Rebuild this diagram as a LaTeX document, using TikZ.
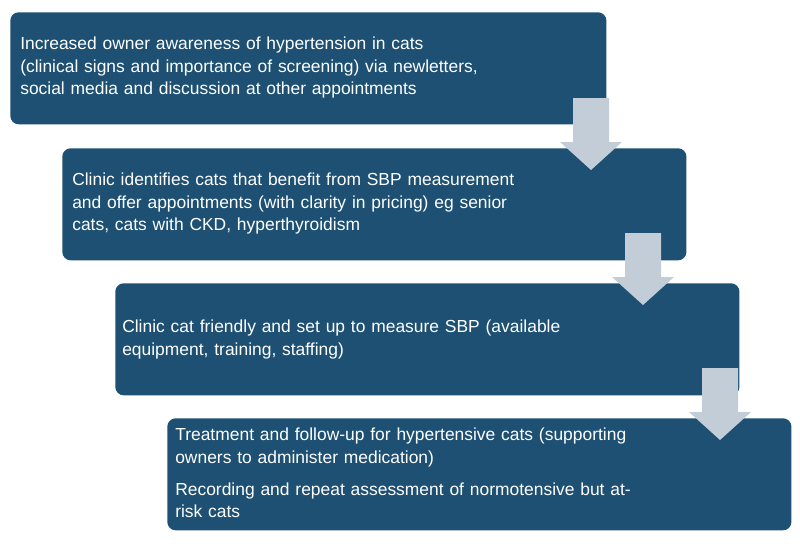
\documentclass[tikz,border=0pt]{standalone}
\usepackage{fontspec}
\setmainfont{Liberation Sans}
\usetikzlibrary{positioning}
\definecolor{stepblue}{HTML}{1D5072}
\definecolor{arrowgray}{HTML}{C3CDD7}
\tikzset{
  stepbox/.style={fill=stepblue, rounded corners=6pt, minimum width=15.6cm,
    minimum height=2.8cm, inner sep=0pt},
  steptext/.style={text=white, font=\fontsize{12.4}{15.8}\selectfont, align=left,
    text width=15cm, anchor=north west, inner sep=0pt},
  downarrow/.style={fill=arrowgray}
}
\newcommand{\downarrowat}[2]{%
  \fill[downarrow] (#1-18,#2) -- (#1+18,#2) -- (#1+18,#2+44) -- (#1+31,#2+44)
    -- (#1,#2+72) -- (#1-31,#2+44) -- (#1-18,#2+44) -- cycle;}
\begin{document}
\begin{tikzpicture}[x=0.025cm, y=-0.025cm]
    \useasboundingbox (0,0) rectangle (800,546);

    % Step boxes
    \node[stepbox, anchor=north west, minimum width=14.9cm] (stepA) at (10,12) {};
    \node[stepbox, anchor=north west] (stepB) at (62,148) {};
    \node[stepbox, anchor=north west] (stepC) at (115,283) {};
    \node[stepbox, anchor=north west] (stepD) at (167,418) {};

    % Texts
    \node[steptext] (textA) at (20,37) {Increased owner awareness of hypertension in cats\\
      (clinical signs and importance of screening) via newletters,\\
      social media and discussion at other appointments};
    \node[steptext] (textB) at (72,173) {Clinic identifies cats that benefit from SBP measurement\\
      and offer appointments (with clarity in pricing) eg senior\\
      cats, cats with CKD, hyperthyroidism};
    \node[steptext] (textC) at (122,320) {Clinic cat friendly and set up to measure SBP (available\\
      equipment, training, staffing)};
    \node[steptext] (textD) at (175,428) {Treatment and follow-up for hypertensive cats (supporting\\
      owners to administer medication)\\[7pt]
      Recording and repeat assessment of normotensive but at-\\
      risk cats};

    % Arrows between steps
    \downarrowat{591}{98}
    \downarrowat{643}{233}
    \downarrowat{720}{368}
\end{tikzpicture}
\end{document}
